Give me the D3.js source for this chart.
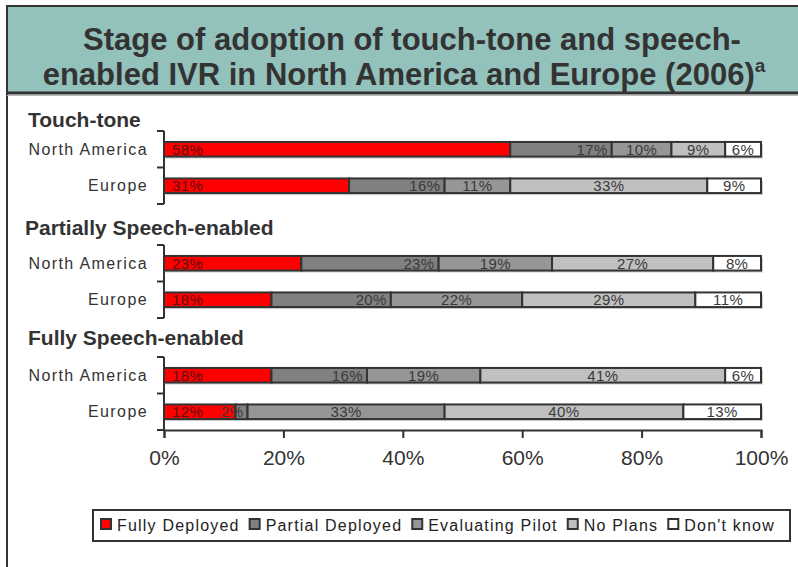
<!DOCTYPE html>
<html><head><meta charset="utf-8">
<script src="https://cdn.jsdelivr.net/npm/d3@7"></script>
<style>
html,body{margin:0;padding:0;background:#fff;}
svg{display:block;font-family:"Liberation Sans",Arial,sans-serif;}
</style></head>
<body>
<svg id="chart" width="798" height="567"></svg>
<script>
// ---- data ----
const groups = ["Touch-tone", "Partially Speech-enabled", "Fully Speech-enabled"];
const regions = ["North America", "Europe"];
const seriesNames = ["Fully Deployed", "Partial Deployed", "Evaluating Pilot", "No Plans", "Don't know"];
const touchTone = [[58, 17, 10, 9, 6], [31, 16, 11, 33, 9]];
const partiallySpeech = [[23, 23, 19, 27, 8], [18, 20, 22, 29, 11]];
const fullySpeech = [[18, 16, 19, 41, 6], [12, 2, 33, 40, 13]];
const xTicks = [0, 20, 40, 60, 80, 100];
const titleLine1 = "Stage of adoption of touch-tone and speech-";
const titleLine2 = "enabled IVR in North America and Europe (2006)";

// ---- style / layout ----
const colors = ["#ff0000", "#808080", "#969696", "#c0c0c0", "#ffffff"];
const labelAnchor = ["start", "end", "middle", "middle", "middle"];
const panelTops = [131, 245, 357];
const panelH = 73;
const headerY = [127, 235, 345];
const headerX = [28, 25, 28];
const dark = "#333333";

const svg = d3.select("#chart");
const allData = [touchTone, partiallySpeech, fullySpeech];

// Title box
svg.append("rect").attr("x", 7).attr("y", 6).attr("width", 800).attr("height", 87)
  .attr("fill", "#93c1bc");
svg.append("line").attr("x1", 6).attr("x2", 798).attr("y1", 6).attr("y2", 6)
  .attr("stroke", dark).attr("stroke-width", 2);
svg.append("line").attr("x1", 7).attr("x2", 7).attr("y1", 5).attr("y2", 567)
  .attr("stroke", dark).attr("stroke-width", 2);

const title = svg.append("text").attr("text-anchor", "middle")
  .attr("font-size", 31).attr("font-weight", "bold").attr("fill", dark);
title.append("tspan").attr("x", 412).attr("y", 50).text(titleLine1);
title.append("tspan").attr("x", 404).attr("y", 85).text(titleLine2);
title.append("tspan").attr("dy", -13).attr("font-size", 19).text("a");

svg.append("line").attr("x1", 7).attr("x2", 798).attr("y1", 93).attr("y2", 93)
  .attr("stroke", dark).attr("stroke-width", 3);
svg.append("line").attr("x1", 7).attr("x2", 798).attr("y1", 95.5).attr("y2", 95.5)
  .attr("stroke", "#bbbbbb").attr("stroke-width", 1);

// x scale
const x = d3.scaleLinear().domain([0, 100]).range([164, 761]);

allData.forEach((rows, gi) => {
  const top = panelTops[gi];
  const y = d3.scaleBand().domain(regions).range([top, top + panelH])
    .paddingInner(0.6).paddingOuter(0.3);
  const g = svg.append("g");

  g.append("text").attr("x", headerX[gi]).attr("y", headerY[gi])
    .attr("font-size", 21).attr("font-weight", "bold").attr("fill", dark)
    .text(groups[gi]);

  regions.forEach(r => {
    g.append("text").attr("x", 148).attr("y", y(r) + y.bandwidth() / 2 + 5.5)
      .attr("text-anchor", "end").attr("font-size", 16).attr("letter-spacing", 1.4)
      .attr("fill", dark).text(r);
  });

  rows.forEach((vals, ri) => {
    const r = regions[ri];
    const stacked = [];
    let acc = 0;
    vals.forEach((v, si) => { stacked.push({ s: si, x0: acc, x1: acc + v, v }); acc += v; });
    const by = y(r), bh = y.bandwidth();
    g.append("rect").attr("x", x(0) + 2).attr("y", by + 2)
      .attr("width", x(acc) - x(0)).attr("height", bh).attr("fill", "#d0d0d0");
    g.selectAll(null).data(stacked).enter().append("rect")
      .attr("x", d => x(d.x0)).attr("y", by)
      .attr("width", d => x(d.x1) - x(d.x0)).attr("height", bh)
      .attr("fill", d => colors[d.s]).attr("stroke", dark).attr("stroke-width", 2);
    g.selectAll(null).data(stacked).enter().append("text")
      .attr("x", d => labelAnchor[d.s] === "start" ? x(d.x0) + 8 :
        labelAnchor[d.s] === "end" ? x(d.x1) - 4 : (x(d.x0) + x(d.x1)) / 2)
      .attr("y", by + bh / 2 + 5.5)
      .attr("text-anchor", d => labelAnchor[d.s])
      .attr("font-size", 15).attr("letter-spacing", 0.4)
      .attr("fill", d => d.s === 0 ? "#5a1010" : "#3a3a3a")
      .text(d => d.v + "%");
  });

  const ya = g.append("g").attr("transform", `translate(${x(0)},0)`);
  ya.append("line").attr("x1", 0).attr("x2", 0).attr("y1", top).attr("y2", top + panelH)
    .attr("stroke", dark).attr("stroke-width", 2);
  const bounds = [top, top + panelH / 2, top + panelH];
  ya.selectAll(null).data(bounds).enter().append("line")
    .attr("x1", -7).attr("x2", 0).attr("y1", d => d).attr("y2", d => d)
    .attr("stroke", dark).attr("stroke-width", 2);

  if (gi === allData.length - 1) {
    const xa = g.append("g").attr("transform", `translate(0,${top + panelH})`)
      .call(d3.axisBottom(x).tickValues(xTicks).tickSize(8).tickPadding(12)
        .tickFormat(d => d + "%"));
    xa.select(".domain").attr("stroke", dark).attr("stroke-width", 2);
    xa.selectAll(".tick line").attr("stroke", dark).attr("stroke-width", 2);
    xa.selectAll(".tick text").attr("font-size", 21).attr("fill", dark)
      .attr("font-family", "Liberation Sans, Arial, sans-serif");
  }
});

// legend (laid out sequentially)
const leg = svg.append("g");
leg.append("rect").attr("x", 93).attr("y", 510).attr("width", 697).attr("height", 31)
  .attr("fill", "#fff").attr("stroke", dark).attr("stroke-width", 2);
let lx = 101;
seriesNames.forEach((n, i) => {
  leg.append("rect").attr("x", lx).attr("y", 519).attr("width", 10).attr("height", 10)
    .attr("fill", colors[i]).attr("stroke", dark).attr("stroke-width", 2);
  const t = leg.append("text").attr("x", lx + 16).attr("y", 531).attr("font-size", 16)
    .attr("letter-spacing", 1.2).attr("fill", "#222").text(n);
  lx += 16 + t.node().getComputedTextLength() + 10;
});
</script>
</body></html>
